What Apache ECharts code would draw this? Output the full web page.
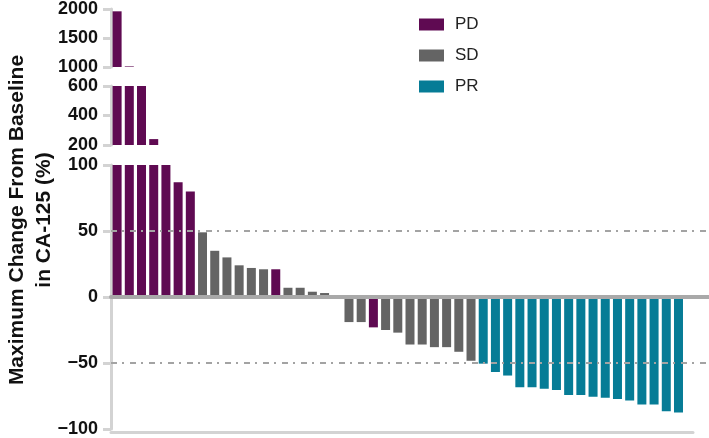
<!DOCTYPE html>
<html>
<head>
<meta charset="utf-8">
<script src="https://cdn.jsdelivr.net/npm/echarts@6/dist/echarts.min.js"></script>
<style>
html,body{margin:0;padding:0;background:#fff;}
#chart{width:709px;height:438px;}
</style>
</head>
<body>
<div id="chart"></div>
<script>
// ---- data ----
var patients = ['1','2','3','4','5','6','7','8','9','10','11','12','13','14','15','16','17','18','19','20','21','22','23','24','25','26','27','28','29','30','31','32','33','34','35','36','37','38','39','40','41','42','43','44','45','46','47'];
var changes = [1960, 1010, 600, 240, 100, 87, 80, 49, 35, 30, 24, 22, 21, 21, 7, 7, 4, 3, 0,
  -19, -19, -23, -25, -27, -36, -36, -38, -38, -41.5, -48.3,
  -50.5, -56.8, -59.5, -68.3, -68.3, -69.5, -70.5, -74.3, -74.3, -75.5, -76.3, -77.3, -78.5, -81.5, -81.5, -86.5, -87.5];
var responses = ['PD','PD','PD','PD','PD','PD','PD','SD','SD','SD','SD','SD','SD','PD','SD','SD','SD','SD','SD',
  'SD','SD','PD','SD','SD','SD','SD','SD','SD','SD','SD',
  'PR','PR','PR','PR','PR','PR','PR','PR','PR','PR','PR','PR','PR','PR','PR','PR','PR'];
var groups = ['PD','SD','PR'];
var groupColors = {PD:'#5f0a52', SD:'#646464', PR:'#067c96'};
var segTop = {min:1000, max:2000, interval:500};
var segMid = {min:200, max:600, interval:200};
var segLow = {min:-100, max:100, interval:50};
var refLines = [50, -50];
var padCats = ['', ''];

var cats = patients.concat(padCats);
var fontFam = "'Liberation Sans', Arial, Helvetica, sans-serif";

function segData(group, seg, isLow) {
  return changes.map(function (v, i) {
    if (responses[i] !== group) return '-';
    if (isLow) return Math.max(seg.min, Math.min(seg.max, v));
    return v > seg.min ? Math.min(v, seg.max) : '-';
  });
}

var axisGrey = '#d3d3d3';
function yAxisFor(seg, gi) {
  return {
    type: 'value', gridIndex: gi, min: seg.min, max: seg.max, interval: seg.interval,
    axisLine: {show: true, lineStyle: {color: axisGrey, width: 3}},
    axisTick: {show: true, length: 8, lineStyle: {color: axisGrey, width: 3}},
    axisLabel: {
      color: '#111', fontWeight: 'bold', fontSize: 18, fontFamily: fontFam, margin: 13,
      formatter: function (v) { return String(v).replace('-', '\u2212'); }
    },
    splitLine: {show: false}
  };
}
function xAxisFor(gi, show) {
  return {
    type: 'category', gridIndex: gi, data: cats, boundaryGap: true,
    show: show,
    axisLine: {show: show, onZero: true, lineStyle: {color: '#a9a9a9', width: 4}},
    axisTick: {show: false}, axisLabel: {show: false}, z: 5
  };
}

var series = [];
var segs = [segTop, segMid, segLow];
segs.forEach(function (seg, gi) {
  groups.forEach(function (g) {
    series.push({
      name: g, type: 'bar', xAxisIndex: gi, yAxisIndex: gi,
      data: segData(g, seg, gi === 2),
      barWidth: 9, barGap: '-100%', clip: true,
      itemStyle: {color: groupColors[g]},
      z: 2
    });
  });
});
// reference lines behind the bars
series.push({
  type: 'line', xAxisIndex: 2, yAxisIndex: 2, data: [], z: 1, silent: true,
  markLine: {
    silent: true, symbol: 'none', label: {show: false},
    lineStyle: {color: '#a3a3a3', width: 2, type: [6, 5, 2, 6]},
    data: refLines.map(function (v) { return {yAxis: v}; })
  }
});

var option = {
  animation: false,
  backgroundColor: '#fff',
  legend: {
    data: groups, orient: 'vertical', left: 414, top: 11,
    itemWidth: 25, itemHeight: 12, itemGap: 14, icon: 'rect',
    textStyle: {fontSize: 17, color: '#222', fontFamily: fontFam, padding: [0, 0, 0, 6]}
  },
  grid: [
    {left: 111, right: -3, top: 8, height: 59},
    {left: 111, right: -3, top: 86, height: 59},
    {left: 111, right: -3, top: 165, height: 267},
    {left: 111, width: 582, top: 431, height: 1}
  ],
  xAxis: [xAxisFor(0, false), xAxisFor(1, false), xAxisFor(2, true),
    {type: 'value', gridIndex: 3, min: 0, max: 1, position: 'bottom',
     axisLine: {show: true, onZero: false, lineStyle: {color: axisGrey, width: 3}},
     axisTick: {show: false}, axisLabel: {show: false}, splitLine: {show: false}}],
  yAxis: [yAxisFor(segTop, 0), yAxisFor(segMid, 1), yAxisFor(segLow, 2),
    {type: 'value', gridIndex: 3, show: false}],
  graphic: [{
    type: 'text', x: 31, y: 220, rotation: Math.PI / 2,
    style: {
      text: 'Maximum Change From Baseline\nin CA-125 (%)',
      font: 'bold 21px ' + fontFam, fill: '#111',
      align: 'center', verticalAlign: 'middle', lineHeight: 27
    }
  }],
  series: series
};

var chart = echarts.init(document.getElementById('chart'), null, {renderer: 'canvas'});
chart.setOption(option);
</script>
</body>
</html>
